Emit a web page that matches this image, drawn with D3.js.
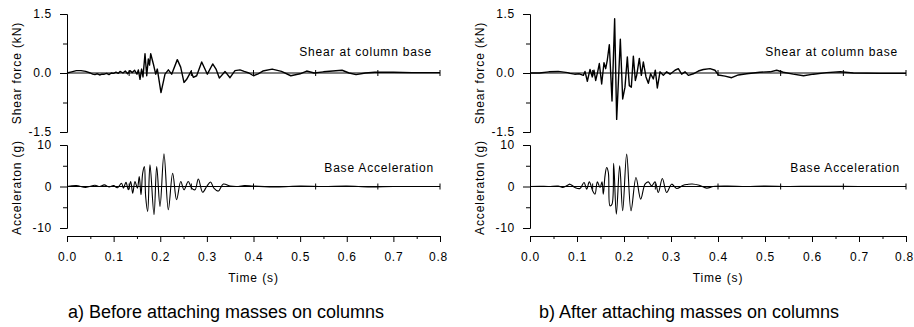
<!DOCTYPE html>
<html>
<head>
<meta charset="utf-8">
<script src="https://cdn.jsdelivr.net/npm/d3@7"></script>
<style>
body { margin: 0; background: #fff; }
text { font-family: "Liberation Sans", Arial, sans-serif; fill: #000; }
</style>
</head>
<body>
<svg></svg>
<script>
var w = 914;
var h = 327;

// time (s), shear (kN) -- before masses
var shearBefore = [
  [0,0.0],[0.01,0.03],[0.02,0.06],[0.03,0.06],[0.04,0.04],[0.05,0.0],[0.055,-0.03],[0.06,-0.04],
  [0.065,-0.02],[0.07,-0.05],[0.075,-0.03],[0.08,-0.03],[0.085,-0.01],[0.09,-0.04],[0.095,0.0],
  [0.1,-0.01],[0.105,0.02],[0.11,-0.01],[0.1137,0.04],[0.12,0.0],[0.125,0.05],[0.13,-0.02],
  [0.135,0.06],[0.14,0.01],[0.145,0.07],[0.15,-0.03],[0.153,0.08],[0.1566,-0.16],[0.16,0.1],
  [0.163,-0.1],[0.1673,0.49],[0.171,-0.07],[0.1744,0.36],[0.177,0.2],[0.1795,0.49],[0.1852,0.23],
  [0.1902,-0.03],[0.1937,0.10],[0.2016,-0.50],[0.2102,-0.03],[0.2174,0.08],[0.2245,-0.03],
  [0.2366,0.34],[0.2438,0.15],[0.2509,-0.24],[0.2567,-0.16],[0.266,0.04],[0.2709,-0.11],
  [0.2781,-0.07],[0.2889,0.28],[0.301,-0.03],[0.3125,0.23],[0.3196,0.10],[0.3267,-0.13],
  [0.3389,0.04],[0.3496,-0.12],[0.3603,0.06],[0.371,0.08],[0.38,0.04],[0.39,0.0],[0.4,-0.07],
  [0.41,-0.02],[0.42,0.05],[0.44,0.1],[0.46,0.04],[0.48,-0.07],[0.5,-0.02],[0.514,0.05],
  [0.53,0.0],[0.55,0.03],[0.57,0.05],[0.59,0.07],[0.605,0.0],[0.62,-0.04],[0.64,0.0],
  [0.66,0.02],[0.7,0.02],[0.74,0.01],[0.8,0.01]
];

// time (s), base acceleration (g) -- before masses
var accelBefore = [
  [0,0],[0.02,0.2],[0.04,-0.2],[0.06,0.3],[0.07,0.0],[0.08,0.4],[0.09,-0.1],[0.1,0.2],
  [0.108,-0.3],[0.117,0.8],[0.121,-0.4],[0.1265,1.0],[0.1315,-0.8],[0.1366,1.2],[0.1409,-1.6],
  [0.1458,1.2],[0.151,-0.4],[0.155,2.4],[0.1587,-2.0],[0.1623,3.2],[0.166,4.8],[0.1687,-2.4],
  [0.173,-6.0],[0.178,5.2],[0.1866,-6.8],[0.1924,4.8],[0.1995,-4.8],[0.208,7.9],[0.2173,-5.6],
  [0.2266,3.2],[0.235,-3.2],[0.244,1.2],[0.251,-0.8],[0.26,1.2],[0.2674,-0.4],[0.2745,-0.8],
  [0.2817,1.8],[0.291,-1.4],[0.2996,0.0],[0.308,1.1],[0.315,-0.4],[0.3246,-1.1],[0.3353,0.6],
  [0.35,0.1],[0.3675,0.0],[0.38,0.2],[0.4,0.1],[0.45,-0.1],[0.5,0.1],[0.55,0.0],[0.6,0.1],
  [0.65,-0.1],[0.7,0.0],[0.8,0.0]
];

// time (s), shear (kN) -- after masses
var shearAfter = [
  [0,0],[0.02,0.0],[0.04,0.03],[0.06,0.04],[0.08,0.01],[0.0851,-0.01],[0.095,-0.03],
  [0.105,-0.02],[0.1135,-0.06],[0.117,0.04],[0.122,-0.21],[0.1277,0.09],[0.1326,-0.10],
  [0.1362,0.07],[0.1397,-0.19],[0.144,0.03],[0.1475,0.24],[0.1525,-0.28],[0.1574,0.26],
  [0.161,0.11],[0.1645,0.33],[0.1688,0.72],[0.1745,-0.71],[0.1801,1.38],[0.1844,-1.18],
  [0.1922,0.86],[0.1972,-0.66],[0.2021,-0.36],[0.2071,0.41],[0.2113,-0.32],[0.2156,-0.36],
  [0.2199,0.43],[0.2241,-0.19],[0.227,-0.06],[0.2326,0.37],[0.2369,-0.06],[0.2411,0.28],
  [0.2468,-0.10],[0.2518,-0.26],[0.2567,-0.02],[0.2624,-0.15],[0.2667,0.07],[0.2709,-0.38],
  [0.2766,0.03],[0.2837,-0.06],[0.2908,0.03],[0.2979,-0.03],[0.3085,0.07],[0.3156,0.11],
  [0.3227,-0.03],[0.3298,0.03],[0.3369,-0.06],[0.3475,-0.02],[0.3582,0.05],[0.3688,0.09],
  [0.383,0.11],[0.3936,0.07],[0.4007,-0.05],[0.415,-0.08],[0.429,-0.12],[0.4433,-0.05],
  [0.461,-0.02],[0.489,0.02],[0.511,0.03],[0.5248,0.07],[0.539,0.02],[0.56,-0.03],
  [0.582,-0.07],[0.603,-0.03],[0.631,0.01],[0.66,0.03],[0.688,0.0],[0.745,-0.01],[0.8,-0.01]
];

// time (s), base acceleration (g) -- after masses
var accelAfter = [
  [0,0],[0.02,0.05],[0.04,0.0],[0.06,0.1],[0.07,-0.2],[0.08,0.3],[0.0851,0.56],[0.0957,-0.24],
  [0.1064,-0.48],[0.1149,0.96],[0.1206,-0.64],[0.1262,1.12],[0.1333,-1.04],[0.1383,-1.85],
  [0.1433,1.12],[0.149,-0.24],[0.1532,1.12],[0.156,-1.85],[0.1596,2.57],[0.1631,4.58],
  [0.1667,3.37],[0.1702,-4.66],[0.1745,-4.26],[0.178,5.62],[0.1837,-6.67],[0.1908,4.98],
  [0.1972,-5.86],[0.2057,7.79],[0.2149,-5.86],[0.2255,2.17],[0.2355,-3.05],[0.2447,0.56],
  [0.2518,1.12],[0.2589,0.16],[0.266,1.12],[0.273,-1.45],[0.2816,1.93],[0.2908,-1.45],
  [0.3014,0.56],[0.312,-0.48],[0.3262,0.32],[0.335,0.5],[0.345,0.6],[0.36,0.3],[0.376,-0.4],
  [0.39,0.0],[0.42,0.1],[0.46,0.0],[0.5,0.1],[0.55,0.0],[0.6,0.05],[0.7,0.0],[0.8,0.0]
];

var timeTicks = [0, 0.1, 0.2, 0.3, 0.4, 0.5, 0.6, 0.7, 0.8];
var timeMinor = [0.05, 0.15, 0.25, 0.35, 0.45, 0.55, 0.65, 0.75];
var zeroLineTicks = [0.1333, 0.2667, 0.4, 0.5333, 0.6667, 0.8];
var shearTicks = [-1.5, 0, 1.5];
var shearMinor = [-0.75, 0.75];
var accelTicks = [-10, 0, 10];
var accelMinor = [-5, 5];

var panels = [
  { left: 67, right: 440, shear: shearBefore, accel: accelBefore,
    caption: "a) Before attaching masses on columns" },
  { left: 530, right: 906, shear: shearAfter, accel: accelAfter,
    caption: "b) After attaching masses on columns" }
];

var svg = d3.select("svg")
            .attr("width", w)
            .attr("height", h);

svg.append("rect").attr("width", w).attr("height", h).attr("fill", "#fff");

function styleAxis(g) {
  g.selectAll("path, line").attr("stroke", "#000").attr("stroke-width", 1);
  g.selectAll("text")
    .attr("fill", "#000")
    .style("font-size", "12px")
    .style("letter-spacing", "0.7px")
    .style("font-family", "'Liberation Sans', Arial, sans-serif");
}

function drawPanel(p) {
  var g = svg.append("g");

  var x = d3.scaleLinear().domain([0, 0.8]).range([p.left, p.right]);
  var yS = d3.scaleLinear().domain([-1.5, 1.5]).range([132, 14]);
  var yA = d3.scaleLinear().domain([-10, 10]).range([228, 145]);

  // y axes
  g.append("g").attr("transform", "translate(" + p.left + ",0)")
    .call(d3.axisLeft(yS).tickValues(shearTicks).tickSize(7).tickSizeOuter(0).tickPadding(8)
      .tickFormat(function (d) { return d.toFixed(1); }))
    .call(styleAxis);
  g.append("g").attr("transform", "translate(" + p.left + ",0)")
    .call(d3.axisLeft(yS).tickValues(shearMinor).tickSize(4).tickSizeOuter(0).tickFormat(""))
    .call(styleAxis);

  g.append("g").attr("transform", "translate(" + p.left + ",0)")
    .call(d3.axisLeft(yA).tickValues(accelTicks).tickSize(7).tickSizeOuter(0).tickPadding(8)
      .tickFormat(function (d) { return String(d); }))
    .call(styleAxis);
  g.append("g").attr("transform", "translate(" + p.left + ",0)")
    .call(d3.axisLeft(yA).tickValues(accelMinor).tickSize(4).tickSizeOuter(0).tickFormat(""))
    .call(styleAxis);

  // x axis
  var xg = g.append("g").attr("transform", "translate(0,236)")
    .call(d3.axisBottom(x).tickValues(timeTicks).tickSize(6).tickSizeOuter(0).tickPadding(10)
      .tickFormat(function (d) { return d.toFixed(1); }))
    .call(styleAxis);
  // keep the last label inside the page
  xg.selectAll(".tick text").filter(function (d) { return d === 0.8; }).attr("dx", -2);
  g.append("g").attr("transform", "translate(0,236)")
    .call(d3.axisBottom(x).tickValues(timeMinor).tickSize(3).tickSizeOuter(0).tickFormat(""))
    .call(styleAxis);

  // zero lines with their little ticks
  [yS(0), yA(0)].forEach(function (y0) {
    g.append("line")
      .attr("x1", p.left).attr("x2", p.right)
      .attr("y1", y0).attr("y2", y0)
      .attr("stroke", "#000").attr("stroke-width", 1);
    g.selectAll(null)
      .data(zeroLineTicks)
      .join("line")
      .attr("x1", function (d) { return x(d); })
      .attr("x2", function (d) { return x(d); })
      .attr("y1", y0 - 3).attr("y2", y0 + 3)
      .attr("stroke", "#000").attr("stroke-width", 1);
  });

  // signals
  var lineS = d3.line().x(function (d) { return x(d[0]); }).y(function (d) { return yS(d[1]); });
  var lineA = d3.line().curve(d3.curveCatmullRom.alpha(0.5))
    .x(function (d) { return x(d[0]); }).y(function (d) { return yA(d[1]); });
  g.append("path").datum(p.shear).attr("d", lineS)
    .attr("fill", "none").attr("stroke", "#000").attr("stroke-width", 1.4).attr("stroke-linejoin", "round");
  g.append("path").datum(p.accel).attr("d", lineA)
    .attr("fill", "none").attr("stroke", "#000").attr("stroke-width", 1.1).attr("stroke-linejoin", "round");

  // labels inside the plots
  g.append("text")
    .attr("x", p.right - 8).attr("y", 56)
    .attr("text-anchor", "end")
    .style("font-size", "12px").style("letter-spacing", "0.8px")
    .text("Shear at column base");
  g.append("text")
    .attr("x", p.right - 6).attr("y", 172)
    .attr("text-anchor", "end")
    .style("font-size", "12px").style("letter-spacing", "0.8px")
    .text("Base Acceleration");

  // y axis titles
  g.append("text")
    .attr("transform", "translate(" + (p.left - 50) + "," + yS(0) + ") rotate(-90)")
    .attr("text-anchor", "middle").attr("dy", "0.35em")
    .style("font-size", "12px").style("letter-spacing", "0.9px")
    .text("Shear force (kN)");
  g.append("text")
    .attr("transform", "translate(" + (p.left - 50) + "," + (yA(0) + 1) + ") rotate(-90)")
    .attr("text-anchor", "middle").attr("dy", "0.35em")
    .style("font-size", "12px").style("letter-spacing", "0.9px")
    .text("Acceleraton (g)");

  // x axis title
  g.append("text")
    .attr("x", (p.left + p.right) / 2).attr("y", 282)
    .attr("text-anchor", "middle")
    .style("font-size", "12px").style("letter-spacing", "0.9px")
    .text("Time (s)");

  // caption
  g.append("text")
    .attr("x", p.left + 159).attr("y", 318)
    .attr("text-anchor", "middle")
    .style("font-size", "18px")
    .text(p.caption);
}

panels.forEach(drawPanel);
</script>
</body>
</html>
